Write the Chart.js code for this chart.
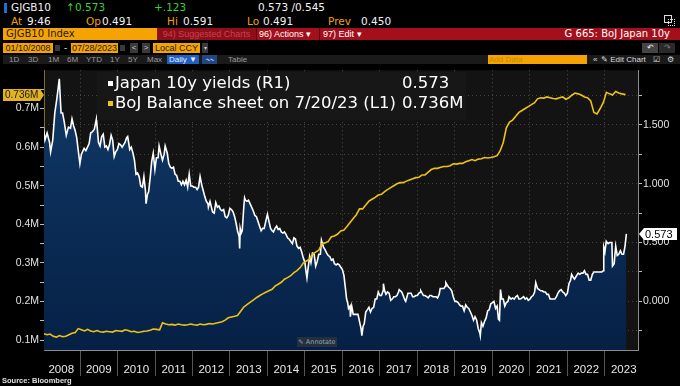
<!DOCTYPE html>
<html>
<head>
<meta charset="utf-8">
<script src="https://cdn.jsdelivr.net/npm/chart.js@4.4.0/dist/chart.umd.min.js"></script>
<style>
  html, body { margin: 0; padding: 0; background: #000; }
  body { width: 680px; height: 386px; position: relative; overflow: hidden; font-family: "DejaVu Sans", sans-serif; }
  .t { position: absolute; white-space: nowrap; line-height: 12px; font-size: 10.5px; color: #f2f2f2; }
  .o { color: #f0a000; }
  .g { color: #35d435; }
  .box { position: absolute; white-space: nowrap; font-family: "Liberation Sans", Arial, sans-serif; font-size: 9px; line-height: 10px; text-align: center; overflow: hidden; }
  .org { background: #f5a300; color: #1a1a1a; }
  .btn { background: #3a3a3a; color: #ccc; }
  .r5 { position: absolute; top: 55px; font-family: "Liberation Sans", Arial, sans-serif; font-size: 8px; line-height: 9px; color: #9a9a9a; white-space: nowrap; }
  #chart { position: absolute; left: 0; top: 63px; }
  #legend { position: absolute; left: 97px; top: 72px; width: 369px; height: 48px; background: rgba(24,24,24,0.93); z-index: 2; }
  #legend .row { position: absolute; left: 0; height: 18px; line-height: 18px; font-size: 16.5px; color: #fff; white-space: nowrap; }
  #legend .sq { position: absolute; left: 11px; top: 7px; width: 5px; height: 5px; }
  #legend .lab { position: absolute; left: 18px; }
  #legend .val { position: absolute; left: 305px; }
  #annotate { position: absolute; left: 297px; top: 337px; width: 40px; height: 10px; background: #22303f; color: #97a3ad; font-size: 6.5px; line-height: 10px; text-align: center; z-index: 2; }
  #source { position: absolute; left: 2px; top: 376px; font-family: "Liberation Sans", Arial, sans-serif; font-size: 7.5px; font-weight: bold; color: #e0e0e0; line-height: 10px; z-index: 2; }
</style>
</head>
<body>
<!-- row 1 -->
<div style="position:absolute;left:4px;top:3px;width:3px;height:10px;background:#1e6fd0"></div>
<div class="t" style="left:11px;top:1px">GJGB10</div>
<div class="t g" style="left:66px;top:1px">↑</div>
<div class="t g" style="left:75px;top:1px">0.573</div>
<div class="t g" style="left:154px;top:1px">+.123</div>
<div class="t" style="left:258px;top:1px">0.573 /0.545</div>
<div style="position:absolute;left:664px;top:15px;width:6px;height:6px;border:1px solid #ddd"></div>
<div style="position:absolute;left:668px;top:19px;width:5px;height:5px;border:1px dotted #ddd"></div>
<!-- row 2 -->
<div class="t o" style="left:11px;top:15px">At</div>
<div class="t" style="left:27px;top:15px">9:46</div>
<div class="t o" style="left:86px;top:15px">Op</div>
<div class="t" style="left:102px;top:15px">0.491</div>
<div class="t o" style="left:167px;top:15px">Hi</div>
<div class="t" style="left:183px;top:15px">0.591</div>
<div class="t o" style="left:247px;top:15px">Lo</div>
<div class="t" style="left:263px;top:15px">0.491</div>
<div class="t o" style="left:328px;top:15px">Prev</div>
<div class="t" style="left:361px;top:15px">0.450</div>
<!-- row 3 -->
<div class="box org" style="left:3px;top:28px;width:151px;height:12px;line-height:12px;font-family:'DejaVu Sans';font-size:10px;text-align:left;padding-left:3px">GJGB10 Index</div>
<div class="box" style="left:157px;top:28px;width:523px;height:12px;background:#a3101c"></div>
<div class="box" style="left:157px;top:28px;width:99px;height:12px;line-height:12px;background:#8e0e19;color:#c8434e">94) Suggested Charts</div>
<div class="box" style="left:256px;top:28px;width:1px;height:12px;background:#5a050c"></div>
<div class="box" style="left:259px;top:28px;width:60px;height:12px;line-height:12px;color:#fff;text-align:left">96) Actions ▾</div>
<div class="box" style="left:319px;top:28px;width:1px;height:12px;background:#5a050c"></div>
<div class="box" style="left:323px;top:28px;width:44px;height:12px;line-height:12px;color:#fff;text-align:left">97) Edit ▾</div>
<div class="box" style="left:540px;top:28px;width:130px;height:12px;line-height:12px;color:#fff;font-family:'DejaVu Sans';font-size:10px;text-align:right">G 665: BoJ Japan 10y</div>
<!-- row 4 -->
<div class="box org" style="left:3px;top:43px;width:50px;height:10px">01/10/2008</div>
<div class="box btn" style="left:55px;top:45px;width:5px;height:6px"></div>
<div class="t" style="left:64px;top:42px;font-size:9px">-</div>
<div class="box org" style="left:71px;top:43px;width:47px;height:10px">07/28/2023</div>
<div class="box btn" style="left:120px;top:45px;width:5px;height:6px"></div>
<div class="box btn" style="left:130px;top:43px;width:8px;height:10px;font-size:8px">&lt;</div>
<div class="box btn" style="left:142px;top:43px;width:8px;height:10px;font-size:8px">&gt;</div>
<div class="box org" style="left:153px;top:43px;width:47px;height:10px">Local CCY</div>
<div class="box btn" style="left:202px;top:43px;width:6px;height:10px;font-size:6px">▾</div>
<div class="box btn" style="left:642px;top:43px;width:16px;height:10px;font-size:8px;background:#444;color:#eee">↶</div>
<div class="box btn" style="left:659px;top:43px;width:16px;height:10px;font-size:8px;background:#2a2a2a;color:#777">↷</div>
<!-- row 5 -->
<div style="position:absolute;left:3px;top:55px;width:677px;height:9px;background:#1a1a1a"></div>
<div class="r5" style="left:9px">1D</div>
<div class="r5" style="left:28px">3D</div>
<div class="r5" style="left:48px">1M</div>
<div class="r5" style="left:67px">6M</div>
<div class="r5" style="left:86px">YTD</div>
<div class="r5" style="left:110px">1Y</div>
<div class="r5" style="left:128px">5Y</div>
<div class="r5" style="left:147px">Max</div>
<div class="r5" style="left:167px;width:32px;background:#1f5fbf;color:#e8f0ff;text-align:center">Daily ▼</div>
<div class="r5" style="left:202px;width:15px;background:#23467d;color:#8fb4ff;text-align:center">〰</div>
<div class="r5" style="left:228px">Table</div>
<div class="r5" style="left:488px;width:98px;height:9px;background:#f5a300;color:#c98a00;padding-left:1px">Add Data</div>
<div class="r5" style="left:593px;color:#ddd">«</div>
<div class="r5" style="left:601px;color:#ddd">✎ Edit Chart</div>
<div class="r5" style="left:653px;color:#ddd">☑</div>
<div class="r5" style="left:667px;color:#ddd">⚙</div>

<canvas id="chart" width="680" height="323"></canvas>

<div id="legend">
  <div class="row" style="top:2px"><span class="sq" style="background:#fff"></span><span class="lab">Japan 10y yields (R1)</span><span class="val">0.573</span></div>
  <div class="row" style="top:22px"><span class="sq" style="background:#f0c419"></span><span class="lab">BoJ Balance sheet on 7/20/23 (L1)</span><span class="val">0.736M</span></div>
</div>
<div id="annotate">✎ Annotate</div>
<div id="source">Source: Bloomberg</div>

<script>
// Japan 10y yield, % (right axis)
const yieldDates = [
  '2008-01-10','2008-01-25','2008-02-15','2008-03-10','2008-03-20','2008-04-10','2008-04-30','2008-05-20','2008-06-13','2008-06-30','2008-07-15','2008-08-01','2008-08-20','2008-09-10','2008-09-30','2008-10-15','2008-10-31','2008-11-15','2008-11-30','2008-12-15','2008-12-31',
  '2009-01-15','2009-02-10','2009-02-27','2009-03-15','2009-03-31','2009-04-15','2009-04-30','2009-05-20','2009-06-10','2009-06-30','2009-07-15','2009-07-31','2009-08-15','2009-08-31','2009-09-15','2009-09-30','2009-10-15','2009-10-31','2009-11-15','2009-11-30','2009-12-15','2009-12-31',
  '2010-01-15','2010-01-31','2010-02-15','2010-03-15','2010-03-31','2010-04-10','2010-04-30','2010-05-15','2010-05-31','2010-06-15','2010-06-30','2010-07-15','2010-07-31','2010-08-15','2010-08-31','2010-09-15','2010-09-30','2010-10-06','2010-10-20','2010-10-31','2010-11-15','2010-11-30','2010-12-15','2010-12-31',
  '2011-01-15','2011-01-31','2011-02-10','2011-02-28','2011-03-15','2011-03-31','2011-04-10','2011-04-30','2011-05-15','2011-05-31','2011-06-15','2011-06-30','2011-07-15','2011-07-31','2011-08-15','2011-08-31','2011-09-15','2011-09-30','2011-10-15','2011-10-31','2011-11-15','2011-11-30','2011-12-15','2011-12-31',
  '2012-01-15','2012-01-31','2012-02-15','2012-02-29','2012-03-15','2012-03-31','2012-04-15','2012-04-30','2012-05-15','2012-05-31','2012-06-04','2012-06-20','2012-07-15','2012-07-31','2012-08-15','2012-08-31','2012-09-15','2012-09-30','2012-10-15','2012-10-31','2012-11-15','2012-11-30','2012-12-15','2012-12-31',
  '2013-01-15','2013-01-31','2013-02-15','2013-02-28','2013-03-15','2013-03-31','2013-04-05','2013-04-10','2013-04-20','2013-04-30','2013-05-15','2013-05-23','2013-05-31','2013-06-15','2013-06-30','2013-07-15','2013-07-31','2013-08-15','2013-08-31','2013-09-15','2013-09-30','2013-10-15','2013-10-31','2013-11-15','2013-11-30','2013-12-15','2013-12-31',
  '2014-01-15','2014-01-31','2014-02-15','2014-02-28','2014-03-15','2014-03-31','2014-04-15','2014-04-30','2014-05-15','2014-05-31','2014-06-15','2014-06-30','2014-07-15','2014-07-31','2014-08-15','2014-08-31','2014-09-15','2014-09-30','2014-10-15','2014-10-31','2014-11-15','2014-11-30','2014-12-15','2014-12-31',
  '2015-01-10','2015-01-20','2015-01-31','2015-02-15','2015-02-28','2015-03-15','2015-03-31','2015-04-15','2015-04-30','2015-05-15','2015-05-31','2015-06-10','2015-06-30','2015-07-15','2015-07-31','2015-08-15','2015-08-31','2015-09-15','2015-09-30','2015-10-15','2015-10-31','2015-11-15','2015-11-30','2015-12-15','2015-12-31',
  '2016-01-15','2016-01-31','2016-02-10','2016-02-20','2016-02-29','2016-03-15','2016-03-18','2016-03-31','2016-04-15','2016-04-30','2016-05-15','2016-05-31','2016-06-15','2016-06-30','2016-07-08','2016-07-20','2016-07-31','2016-08-15','2016-08-31','2016-09-15','2016-09-30','2016-10-15','2016-10-31','2016-11-15','2016-11-30','2016-12-15','2016-12-31',
  '2017-01-15','2017-01-31','2017-02-03','2017-02-15','2017-02-28','2017-03-15','2017-03-31','2017-04-15','2017-04-30','2017-05-15','2017-05-31','2017-06-15','2017-06-30','2017-07-07','2017-07-31','2017-08-15','2017-08-31','2017-09-08','2017-09-30','2017-10-15','2017-10-31','2017-11-15','2017-11-30','2017-12-15','2017-12-31',
  '2018-01-15','2018-01-31','2018-02-02','2018-02-28','2018-03-15','2018-03-31','2018-04-15','2018-04-30','2018-05-15','2018-05-31','2018-06-15','2018-06-30','2018-07-15','2018-07-31','2018-08-10','2018-08-31','2018-09-15','2018-09-30','2018-10-04','2018-10-31','2018-11-15','2018-11-30','2018-12-15','2018-12-31',
  '2019-01-15','2019-01-31','2019-02-15','2019-02-28','2019-03-15','2019-03-31','2019-04-15','2019-04-30','2019-05-15','2019-05-31','2019-06-15','2019-06-30','2019-07-15','2019-07-31','2019-08-15','2019-08-31','2019-09-04','2019-09-15','2019-09-30','2019-10-15','2019-10-31','2019-11-15','2019-11-30','2019-12-15','2019-12-31',
  '2020-01-15','2020-01-31','2020-02-15','2020-02-28','2020-03-09','2020-03-19','2020-03-31','2020-04-15','2020-04-30','2020-05-15','2020-05-31','2020-06-10','2020-06-30','2020-07-15','2020-07-31','2020-08-15','2020-08-31','2020-09-15','2020-09-30','2020-10-15','2020-10-31','2020-11-15','2020-11-30','2020-12-15','2020-12-31',
  '2021-01-15','2021-01-31','2021-02-15','2021-02-26','2021-03-15','2021-03-31','2021-04-15','2021-04-30','2021-05-15','2021-05-31','2021-06-15','2021-06-30','2021-07-15','2021-07-31','2021-08-15','2021-08-31','2021-09-15','2021-09-30','2021-10-15','2021-10-31','2021-11-15','2021-11-30','2021-12-15','2021-12-31',
  '2022-01-15','2022-01-31','2022-02-10','2022-02-28','2022-03-10','2022-03-31','2022-04-15','2022-04-30','2022-05-15','2022-05-31','2022-06-15','2022-06-30','2022-07-15','2022-07-31','2022-08-15','2022-08-31','2022-09-15','2022-09-30','2022-10-15','2022-10-31','2022-11-15','2022-11-30','2022-12-15','2022-12-20','2022-12-31',
  '2023-01-13','2023-01-31','2023-02-15','2023-02-28','2023-03-09','2023-03-15','2023-03-31','2023-04-15','2023-04-30','2023-05-15','2023-05-31','2023-06-15','2023-06-30','2023-07-15','2023-07-28'
];
const yieldValues = [
  1.48,1.37,1.43,1.35,1.27,1.37,1.60,1.72,1.89,1.60,1.60,1.52,1.41,1.48,1.47,1.55,1.49,1.45,1.39,1.28,1.17,
  1.25,1.30,1.28,1.31,1.34,1.43,1.44,1.46,1.55,1.35,1.32,1.40,1.42,1.31,1.32,1.29,1.33,1.41,1.37,1.23,1.27,1.29,
  1.34,1.33,1.31,1.35,1.39,1.40,1.29,1.31,1.26,1.20,1.08,1.09,1.06,0.98,0.97,1.06,0.94,0.83,0.91,0.93,1.05,1.19,1.26,1.12,
  1.22,1.22,1.32,1.25,1.20,1.25,1.32,1.26,1.17,1.14,1.13,1.14,1.08,1.07,1.02,1.02,0.99,1.02,0.99,1.03,0.97,1.08,0.98,0.98,
  0.97,0.97,0.95,0.97,1.06,0.99,0.94,0.89,0.85,0.83,0.80,0.85,0.76,0.75,0.84,0.80,0.81,0.78,0.77,0.78,0.72,0.71,0.73,0.79,
  0.78,0.76,0.72,0.67,0.60,0.55,0.45,0.62,0.58,0.60,0.80,0.88,0.86,0.85,0.86,0.83,0.80,0.77,0.73,0.72,0.68,0.64,0.60,0.62,0.62,0.68,0.74,
  0.68,0.62,0.60,0.59,0.62,0.64,0.61,0.62,0.59,0.58,0.59,0.57,0.54,0.53,0.51,0.49,0.54,0.53,0.47,0.45,0.46,0.42,0.37,0.33,
  0.26,0.20,0.28,0.38,0.33,0.41,0.40,0.30,0.34,0.40,0.40,0.52,0.46,0.44,0.41,0.39,0.38,0.35,0.36,0.32,0.31,0.32,0.31,0.29,0.27,
  0.22,0.10,0.02,-0.01,-0.06,-0.04,-0.13,-0.04,-0.11,-0.11,-0.11,-0.11,-0.17,-0.23,-0.29,-0.21,-0.19,-0.09,-0.07,-0.05,-0.09,-0.06,-0.05,0.02,0.02,0.08,0.05,
  0.05,0.09,0.15,0.09,0.06,0.08,0.07,0.01,0.02,0.04,0.04,0.05,0.08,0.10,0.08,0.05,0.01,0.00,0.07,0.07,0.07,0.04,0.04,0.05,0.05,
  0.07,0.08,0.09,0.05,0.05,0.04,0.03,0.05,0.05,0.04,0.04,0.04,0.03,0.06,0.11,0.11,0.11,0.13,0.16,0.12,0.11,0.09,0.04,0.00,
  0.00,-0.01,-0.03,-0.04,-0.04,-0.08,-0.03,-0.05,-0.06,-0.09,-0.12,-0.16,-0.13,-0.16,-0.23,-0.27,-0.29,-0.18,-0.21,-0.17,-0.14,-0.08,-0.07,-0.02,-0.01,
  0.00,-0.06,-0.04,-0.15,-0.16,0.10,0.02,0.02,-0.04,-0.01,0.00,0.04,0.02,0.03,0.02,0.04,0.05,0.02,0.02,0.03,0.04,0.02,0.03,0.01,0.02,
  0.04,0.05,0.08,0.16,0.11,0.10,0.09,0.09,0.08,0.08,0.06,0.06,0.02,0.02,0.02,0.02,0.04,0.07,0.09,0.10,0.08,0.07,0.05,0.07,
  0.15,0.18,0.23,0.20,0.19,0.22,0.24,0.23,0.24,0.24,0.26,0.23,0.23,0.18,0.18,0.23,0.25,0.25,0.25,0.25,0.25,0.25,0.26,0.46,0.42,
  0.51,0.49,0.50,0.50,0.50,0.30,0.32,0.47,0.39,0.40,0.43,0.40,0.40,0.47,0.573
];

// BoJ balance sheet, M (left axis), mid-month readings
const bojDates = [
  '2008-01','2008-02','2008-03','2008-04','2008-05','2008-06','2008-07','2008-08','2008-09','2008-10','2008-11','2008-12',
  '2009-01','2009-02','2009-03','2009-04','2009-05','2009-06','2009-07','2009-08','2009-09','2009-10','2009-11','2009-12',
  '2010-01','2010-02','2010-03','2010-04','2010-05','2010-06','2010-07','2010-08','2010-09','2010-10','2010-11','2010-12',
  '2011-01','2011-02','2011-03','2011-04','2011-05','2011-06','2011-07','2011-08','2011-09','2011-10','2011-11','2011-12',
  '2012-01','2012-02','2012-03','2012-04','2012-05','2012-06','2012-07','2012-08','2012-09','2012-10','2012-11','2012-12',
  '2013-01','2013-02','2013-03','2013-04','2013-05','2013-06','2013-07','2013-08','2013-09','2013-10','2013-11','2013-12',
  '2014-01','2014-02','2014-03','2014-04','2014-05','2014-06','2014-07','2014-08','2014-09','2014-10','2014-11','2014-12',
  '2015-01','2015-02','2015-03','2015-04','2015-05','2015-06','2015-07','2015-08','2015-09','2015-10','2015-11','2015-12',
  '2016-01','2016-02','2016-03','2016-04','2016-05','2016-06','2016-07','2016-08','2016-09','2016-10','2016-11','2016-12',
  '2017-01','2017-02','2017-03','2017-04','2017-05','2017-06','2017-07','2017-08','2017-09','2017-10','2017-11','2017-12',
  '2018-01','2018-02','2018-03','2018-04','2018-05','2018-06','2018-07','2018-08','2018-09','2018-10','2018-11','2018-12',
  '2019-01','2019-02','2019-03','2019-04','2019-05','2019-06','2019-07','2019-08','2019-09','2019-10','2019-11','2019-12',
  '2020-01','2020-02','2020-03','2020-04','2020-05','2020-06','2020-07','2020-08','2020-09','2020-10','2020-11','2020-12',
  '2021-01','2021-02','2021-03','2021-04','2021-05','2021-06','2021-07','2021-08','2021-09','2021-10','2021-11','2021-12',
  '2022-01','2022-02','2022-03','2022-04','2022-05','2022-06','2022-07','2022-08','2022-09','2022-10','2022-11','2022-12',
  '2023-01','2023-02','2023-03','2023-04','2023-05','2023-06','2023-07-20'
];
const bojValues = [
  0.117,0.114,0.116,0.110,0.108,0.112,0.109,0.110,0.114,0.118,0.120,0.130,
  0.127,0.124,0.128,0.124,0.122,0.125,0.122,0.121,0.123,0.122,0.121,0.125,
  0.124,0.123,0.127,0.125,0.122,0.123,0.120,0.121,0.123,0.124,0.126,0.129,
  0.128,0.127,0.145,0.142,0.140,0.141,0.139,0.142,0.140,0.139,0.140,0.142,
  0.140,0.139,0.142,0.140,0.141,0.143,0.142,0.144,0.146,0.148,0.152,0.158,
  0.160,0.162,0.164,0.175,0.186,0.192,0.198,0.204,0.210,0.215,0.220,0.224,
  0.228,0.232,0.240,0.245,0.250,0.258,0.262,0.267,0.275,0.280,0.288,0.300,
  0.305,0.310,0.323,0.328,0.333,0.350,0.352,0.356,0.368,0.370,0.375,0.383,
  0.385,0.395,0.405,0.415,0.425,0.440,0.440,0.450,0.460,0.465,0.470,0.476,
  0.478,0.485,0.490,0.495,0.500,0.505,0.508,0.508,0.512,0.515,0.518,0.521,
  0.522,0.528,0.528,0.535,0.542,0.545,0.545,0.548,0.550,0.550,0.552,0.557,
  0.556,0.558,0.558,0.562,0.565,0.568,0.565,0.569,0.570,0.573,0.572,0.573,
  0.575,0.578,0.590,0.612,0.650,0.665,0.670,0.680,0.690,0.695,0.700,0.705,
  0.710,0.715,0.725,0.728,0.727,0.730,0.728,0.726,0.725,0.728,0.730,0.724,
  0.728,0.735,0.740,0.738,0.735,0.730,0.728,0.720,0.690,0.686,0.700,0.715,
  0.742,0.738,0.735,0.744,0.740,0.738,0.736
];

// axis ticks
const yearLabels = [2008,2009,2010,2011,2012,2013,2014,2015,2016,2017,2018,2019,2020,2021,2022,2023];
const rightTicks = [-0.25,0,0.25,0.5,0.75,1,1.25,1.5,1.75];
const leftTicks = [0.1,0.15,0.2,0.25,0.3,0.35,0.4,0.45,0.5,0.55,0.6,0.65,0.7,0.75];

function toYear(s) {
  const p = s.split('-').map(Number);
  const t = Date.UTC(p[0], p[1] - 1, p[2] || 15);
  const t0 = Date.UTC(p[0], 0, 1), t1 = Date.UTC(p[0] + 1, 0, 1);
  return p[0] + (t - t0) / (t1 - t0);
}

const yieldPoints = yieldDates.map((d, i) => ({x: toYear(d), y: yieldValues[i]}));
const bojPoints = bojDates.map((d, i) => ({x: toYear(d), y: bojValues[i]}));

const isWhole = v => Math.abs(v - Math.round(v)) < 1e-9;
const axisFont = {family: 'Liberation Sans, Arial, sans-serif', size: 10.5};

const bgPlugin = {
  id: 'bg',
  beforeDraw(chart) {
    const {ctx, chartArea: a} = chart;
    ctx.save();
    ctx.fillStyle = '#131313';
    ctx.fillRect(a.left, a.top, a.right - a.left, a.bottom - a.top);
    ctx.restore();
  }
};

const tagPlugin = {
  id: 'tags',
  afterDraw(chart) {
    const {ctx} = chart;
    const yL = chart.scales.yL, yR = chart.scales.yR;
    ctx.save();
    ctx.textBaseline = 'middle';
    ctx.textAlign = 'left';

    // last BoJ value on left axis
    const lastBoj = bojValues[bojValues.length - 1];
    let y = Math.round(yL.getPixelForValue(lastBoj));
    ctx.fillStyle = '#e3b21f';
    ctx.beginPath();
    ctx.moveTo(3, y - 6); ctx.lineTo(40, y - 6); ctx.lineTo(44, y);
    ctx.lineTo(40, y + 6); ctx.lineTo(3, y + 6); ctx.closePath();
    ctx.fill();
    ctx.fillStyle = '#1a1a1a';
    ctx.font = '10px Liberation Sans, Arial, sans-serif';
    ctx.fillText(lastBoj.toFixed(3) + 'M', 5, y + 0.5);

    // last yield on right axis
    const lastYield = yieldValues[yieldValues.length - 1];
    y = Math.round(yR.getPixelForValue(lastYield));
    ctx.fillStyle = '#ffffff';
    ctx.beginPath();
    ctx.moveTo(639, y); ctx.lineTo(644, y - 6); ctx.lineTo(677, y - 6);
    ctx.lineTo(677, y + 6); ctx.lineTo(644, y + 6); ctx.closePath();
    ctx.fill();
    ctx.fillStyle = '#000';
    ctx.font = '11px Liberation Sans, Arial, sans-serif';
    ctx.fillText(lastYield.toFixed(3), 645, y + 0.5);
    ctx.restore();
  }
};

new Chart(document.getElementById('chart'), {
  type: 'line',
  data: {
    datasets: [
      {
        label: 'BoJ Balance sheet on 7/20/23 (L1)',
        data: bojPoints,
        yAxisID: 'yL',
        borderColor: '#eec213',
        borderWidth: 1.6,
        pointRadius: 0,
        fill: false
      },
      {
        label: 'Japan 10y yields (R1)',
        data: yieldPoints,
        yAxisID: 'yR',
        borderColor: '#ffffff',
        borderWidth: 1.6,
        pointRadius: 0,
        fill: 'start',
        backgroundColor: c => {
          const {ctx, chartArea} = c.chart;
          if (!chartArea) return '#0b2c54';
          const g = ctx.createLinearGradient(0, chartArea.top, 0, chartArea.bottom);
          g.addColorStop(0, '#103a68');
          g.addColorStop(1, '#062045');
          return g;
        }
      }
    ]
  },
  options: {
    responsive: false,
    animation: false,
    devicePixelRatio: 1,
    layout: {padding: {top: 2, bottom: 8, left: 0, right: 0}},
    plugins: {legend: {display: false}, tooltip: {enabled: false}},
    scales: {
      x: {
        type: 'linear',
        min: 2008.04,
        max: 2023.88,
        afterBuildTicks: s => {
          const t = [];
          yearLabels.forEach(y => {
            if (y > yearLabels[0]) t.push({value: y});
            t.push({value: y + 0.5});
          });
          s.ticks = t;
        },
        afterFit: s => { s.height = 28; },
        grid: {
          color: c => (c.tick && isWhole(c.tick.value)) ? 'rgba(150,150,150,0.45)' : 'rgba(0,0,0,0)',
          tickColor: c => (c.tick && isWhole(c.tick.value)) ? '#555' : 'rgba(0,0,0,0)',
          tickLength: 26,
          tickBorderDash: []
        },
        border: {color: '#8c8c8c', dash: [1, 3]},
        ticks: {
          autoSkip: false,
          maxRotation: 0,
          padding: -13,
          color: '#e8e8e8',
          font: {family: 'Liberation Sans, Arial, sans-serif', size: 11.5},
          callback: v => isWhole(v) ? '' : String(Math.floor(v))
        }
      },
      yL: {
        type: 'linear',
        position: 'left',
        min: 0.0746,
        max: 0.799,
        afterBuildTicks: s => { s.ticks = leftTicks.map(v => ({value: v})); },
        afterFit: s => { s.width = 44; },
        grid: {drawOnChartArea: false, tickColor: '#bbb', tickLength: 4},
        border: {color: '#7c6a32'},
        ticks: {
          padding: 1,
          color: '#e2e2e2',
          font: axisFont,
          callback: v => isWhole(v * 10) ? v.toFixed(1) + 'M' : ''
        }
      },
      yR: {
        type: 'linear',
        position: 'right',
        min: -0.4125,
        max: 1.9625,
        afterBuildTicks: s => { s.ticks = rightTicks.map(v => ({value: v})); },
        afterFit: s => { s.width = 42; },
        grid: {color: 'rgba(140,140,140,0.4)', tickColor: '#bbb', tickLength: 4, tickBorderDash: []},
        border: {color: '#8c8c8c', dash: [1, 3]},
        ticks: {
          padding: 1,
          color: '#e2e2e2',
          font: axisFont,
          callback: v => isWhole(v * 2) ? v.toFixed(3) : ''
        }
      }
    }
  },
  plugins: [bgPlugin, tagPlugin]
});
</script>
</body>
</html>
